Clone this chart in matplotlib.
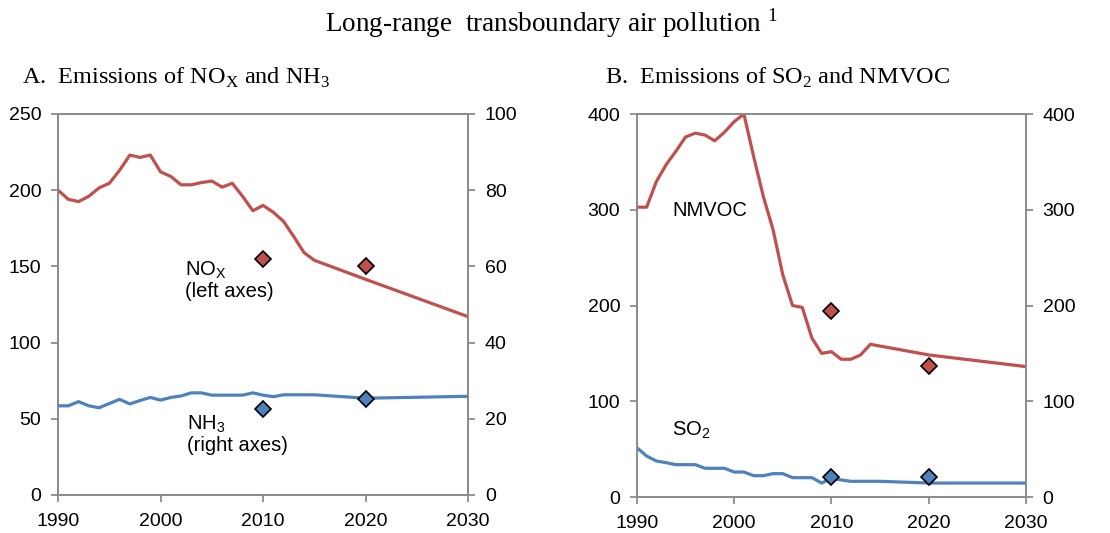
import numpy as np
import matplotlib.pyplot as plt

plt.rcParams['font.family'] = ['Liberation Sans', 'DejaVu Sans']

red = '#C0504D'
blue = '#4F81BD'
grey = '#8C8C8C'

# Panel A: NOx (left axis) and NH3 (right axis)
years_a = [1990, 1991, 1992, 1993, 1994, 1995, 1996, 1997, 1998, 1999,
           2000, 2001, 2002, 2003, 2004, 2005, 2006, 2007, 2008, 2009,
           2010, 2011, 2012, 2013, 2014, 2015, 2020, 2030]
nox = [200, 194, 192.5, 196, 201.5, 204.5, 213, 223, 221.5, 223,
       212, 209, 203.5, 203.5, 205, 206, 202, 204.5, 196, 186.5,
       190, 185.5, 179.5, 169.5, 159, 154, 141.5, 117]
years_nh3 = [1990, 1991, 1992, 1993, 1994, 1995, 1996, 1997, 1998, 1999,
             2000, 2001, 2002, 2003, 2004, 2005, 2006, 2007, 2008, 2009,
             2010, 2011, 2012, 2013, 2014, 2015, 2020, 2030]
nh3 = [23.4, 23.4, 24.5, 23.4, 22.9, 24.0, 25.1, 23.9, 24.8, 25.6,
       24.9, 25.6, 26.0, 26.8, 26.8, 26.2, 26.2, 26.2, 26.2, 26.8,
       26.2, 25.8, 26.3, 26.3, 26.3, 26.3, 25.4, 25.9]
target_years = [2010, 2020]
nox_target = [155, 150]
nh3_target = [22.6, 25.1]

# Panel B: NMVOC and SO2 (same scale on both axes)
years_b = [1990, 1991, 1992, 1993, 1994, 1995, 1996, 1997, 1998, 1999,
           2000, 2001, 2002, 2003, 2004, 2005, 2006, 2007, 2008, 2009,
           2010, 2011, 2012, 2013, 2014, 2020, 2030]
nmvoc = [302.7, 302.7, 329.5, 347, 361, 376, 380, 378, 372, 381,
         392, 400, 355.6, 313.8, 279, 232, 200, 198, 165.8, 150,
         151.8, 143.9, 143.9, 148.4, 159.5, 148.4, 136.2]
years_so2 = [1990, 1991, 1992, 1993, 1994, 1995, 1996, 1997, 1998, 1999,
             2000, 2001, 2002, 2003, 2004, 2005, 2006, 2007, 2008, 2009,
             2010, 2011, 2012, 2013, 2014, 2015, 2020, 2030]
so2 = [51.5, 42.8, 37.6, 35.9, 33.8, 33.8, 33.8, 30, 30, 30,
       26.1, 26.1, 22.3, 22.3, 24.4, 24.4, 20.2, 20.2, 20.2, 14.6,
       19.5, 17.8, 16.4, 16.4, 16.4, 16.4, 14.6, 14.6]
nmvoc_target = [194.7, 136.9]
so2_target = [21.2, 21.2]

xticks = [1990, 2000, 2010, 2020, 2030]


def style(ax, ymax, ystep):
    ax.set_xlim(1990, 2030)
    ax.set_ylim(0, ymax)
    ax.set_yticks(np.arange(0, ymax + 1, ystep))
    ax.set_xticks(xticks)
    for s in ax.spines.values():
        s.set_color(grey)
        s.set_linewidth(1.3)
    ax.tick_params(direction='out', length=5, width=1.3, color=grey,
                   labelsize=14)
    ax.tick_params(axis='y', pad=7)
    ax.tick_params(axis='x', pad=8)


def diamonds(ax, xs, ys, c):
    ax.plot(xs, ys, linestyle='none', marker='D', markersize=8.5,
            markerfacecolor=c, markeredgecolor='black', markeredgewidth=1.2,
            zorder=5, clip_on=False)


fig = plt.figure(figsize=(11.1, 5.33), dpi=100)
fig.text(0.497, 0.957, 'Long-range  transboundary air pollution $^\\mathregular{1}$',
         ha='center', va='center', family='Liberation Serif', fontsize=19.5)

# --- panel A
axA = fig.add_axes([0.0523, 0.0713, 0.3694, 0.7149])
axA2 = axA.twinx()
axA.plot(years_a, nox, color=red, lw=2.3, zorder=3)
axA2.plot(years_nh3, nh3, color=blue, lw=2.3, zorder=3)
diamonds(axA, target_years, nox_target, red)
diamonds(axA2, target_years, nh3_target, blue)
style(axA, 250, 50)
style(axA2, 100, 20)
axA.text(2002.4, 141, 'NO$_\\mathregular{X}$\n(left axes)', fontsize=14.5,
         va='center', ha='left', linespacing=1.05)
axA.text(2002.6, 40, 'NH$_\\mathregular{3}$\n(right axes)', fontsize=14.5,
         va='center', ha='left', linespacing=1.05)
fig.text(0.02, 0.854, 'A.  Emissions of NO$_\\mathregular{X}$ and NH$_\\mathregular{3}$',
         family='Liberation Serif', fontsize=17.5, va='center', ha='left')

# --- panel B
axB = fig.add_axes([0.5738, 0.0675, 0.3505, 0.7186])
axB2 = axB.twinx()
axB.plot(years_b, nmvoc, color=red, lw=2.3, zorder=3)
axB.plot(years_so2, so2, color=blue, lw=2.3, zorder=3)
diamonds(axB, target_years, nmvoc_target, red)
diamonds(axB, target_years, so2_target, blue)
style(axB, 400, 100)
style(axB2, 400, 100)
axB.text(1993.6, 299, 'NMVOC', fontsize=14.5, va='center', ha='left')
axB.text(1993.6, 70, 'SO$_\\mathregular{2}$', fontsize=14.5, va='center', ha='left')
fig.text(0.545, 0.854, 'B.  Emissions of SO$_\\mathregular{2}$ and NMVOC',
         family='Liberation Serif', fontsize=17.5, va='center', ha='left')

fig.savefig('out.png', dpi=100)
